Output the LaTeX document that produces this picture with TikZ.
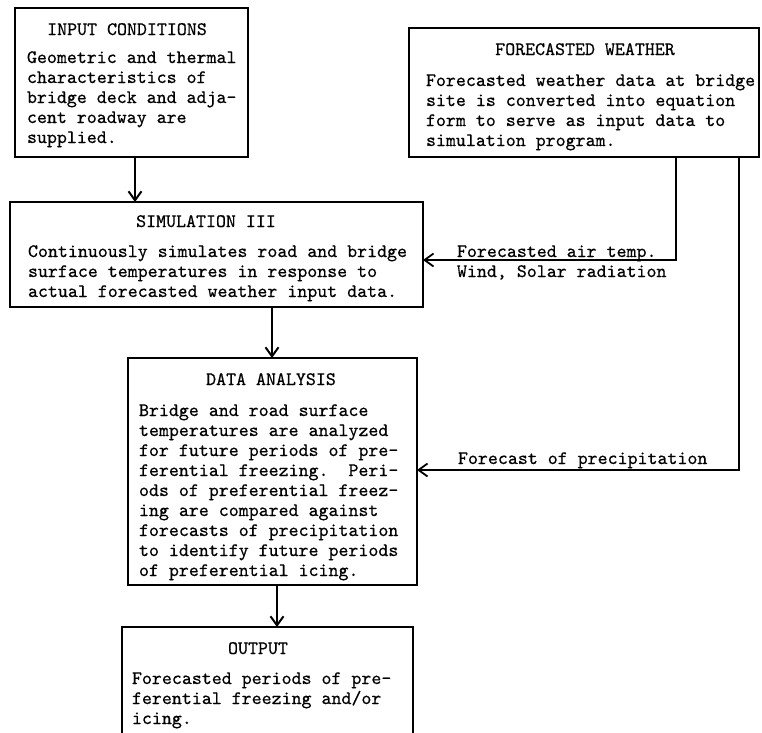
\documentclass[tikz,border=0pt]{standalone}
\usepackage{fontspec}
\newfontfamily\tyfont{lmmono10-regular.otf}[FakeBold=0.5]
\usetikzlibrary{arrows.meta}
\begin{document}
\begin{tikzpicture}[x=1pt,y=-1pt,
  box/.style={draw, line width=2.3pt, inner sep=0pt, outer sep=0pt, anchor=north west},
  txt/.style={inner sep=0pt, outer sep=0pt, anchor=base west, font=\tyfont\fontsize{19}{20}\selectfont},
  ttl/.style={inner sep=0pt, outer sep=0pt, anchor=base, font=\tyfont\fontsize{19}{20}\selectfont},
  arr/.style={line width=2pt, -{Straight Barb[length=9pt,width=13pt,line width=2pt]}},
  conn/.style={line width=1.8pt, -{Straight Barb[length=9pt,width=13pt,line width=1.8pt]}}]
\useasboundingbox (0,0) rectangle (762,732);
\clip (0,0) rectangle (762,732);
\fill[white] (0,0) rectangle (762,732);

% boxes
\node[box, minimum width=233pt, minimum height=149pt] (inp) at (15,8) {};
\node[box, minimum width=350pt, minimum height=129pt] (fw) at (409,28) {};
\node[box, minimum width=413pt, minimum height=105pt] (sim) at (10,202) {};
\node[box, minimum width=289pt, minimum height=227pt] (da) at (128,358) {};
\node[box, minimum width=291pt, minimum height=130pt] (out) at (122,627) {};

% texts
\node[ttl] (inpT) at (127,35) {INPUT CONDITIONS};
\node[txt] (inpB) at (27,63) {\begin{tabular}[t]{@{}l@{}}Geometric and thermal\\characteristics of\\bridge deck and adja-\\cent roadway are\\supplied.\end{tabular}};

\node[ttl] (fwT) at (585,55) {FORECASTED WEATHER};
\node[txt] (fwB) at (426,86) {\begin{tabular}[t]{@{}l@{}}Forecasted weather data at bridge\\site is converted into equation\\form to serve as input data to\\simulation program.\end{tabular}};

\node[ttl] (simT) at (206,227) {SIMULATION III};
\node[txt] (simB) at (28,257) {\begin{tabular}[t]{@{}l@{}}Continuously simulates road and bridge\\surface temperatures in response to\\actual forecasted weather input data.\end{tabular}};

\node[ttl] (daT) at (271,385) {DATA ANALYSIS};
\node[txt] (daB) at (139,416) {\begin{tabular}[t]{@{}l@{}}Bridge and road surface\\temperatures are analyzed\\for future periods of pre-\\ferential freezing.\ \ Peri-\\ods of preferential freez-\\ing are compared against\\forecasts of precipitation\\to identify future periods\\of preferential icing.\end{tabular}};

\node[ttl] (outT) at (258,654) {OUTPUT};
\node[txt] (outB) at (132,684) {\begin{tabular}[t]{@{}l@{}}Forecasted periods of pre-\\ferential freezing and/or\\icing.\end{tabular}};

\node[txt] (lab1) at (457,257) {\begin{tabular}[t]{@{}l@{}}Forecasted air temp.\\Wind, Solar radiation\end{tabular}};
\node[txt] (lab2) at (458,464) {Forecast of precipitation};

% connectors
\coordinate (c1) at (135,0);
\draw[arr] (c1 |- inp.south) -- (c1 |- sim.north);
\coordinate (c2) at (272,0);
\draw[arr] (c2 |- sim.south) -- (c2 |- da.north);
\coordinate (c3) at (277,0);
\draw[arr] (c3 |- da.south) -- (c3 |- out.north);

\coordinate (t1) at (676,260);
\draw[conn] (t1 |- fw.south) -- (t1) -- (t1 -| sim.east);
\coordinate (t2) at (739,470);
\draw[conn] (t2 |- fw.south) -- (t2) -- (t2 -| da.east);
\end{tikzpicture}
\end{document}
